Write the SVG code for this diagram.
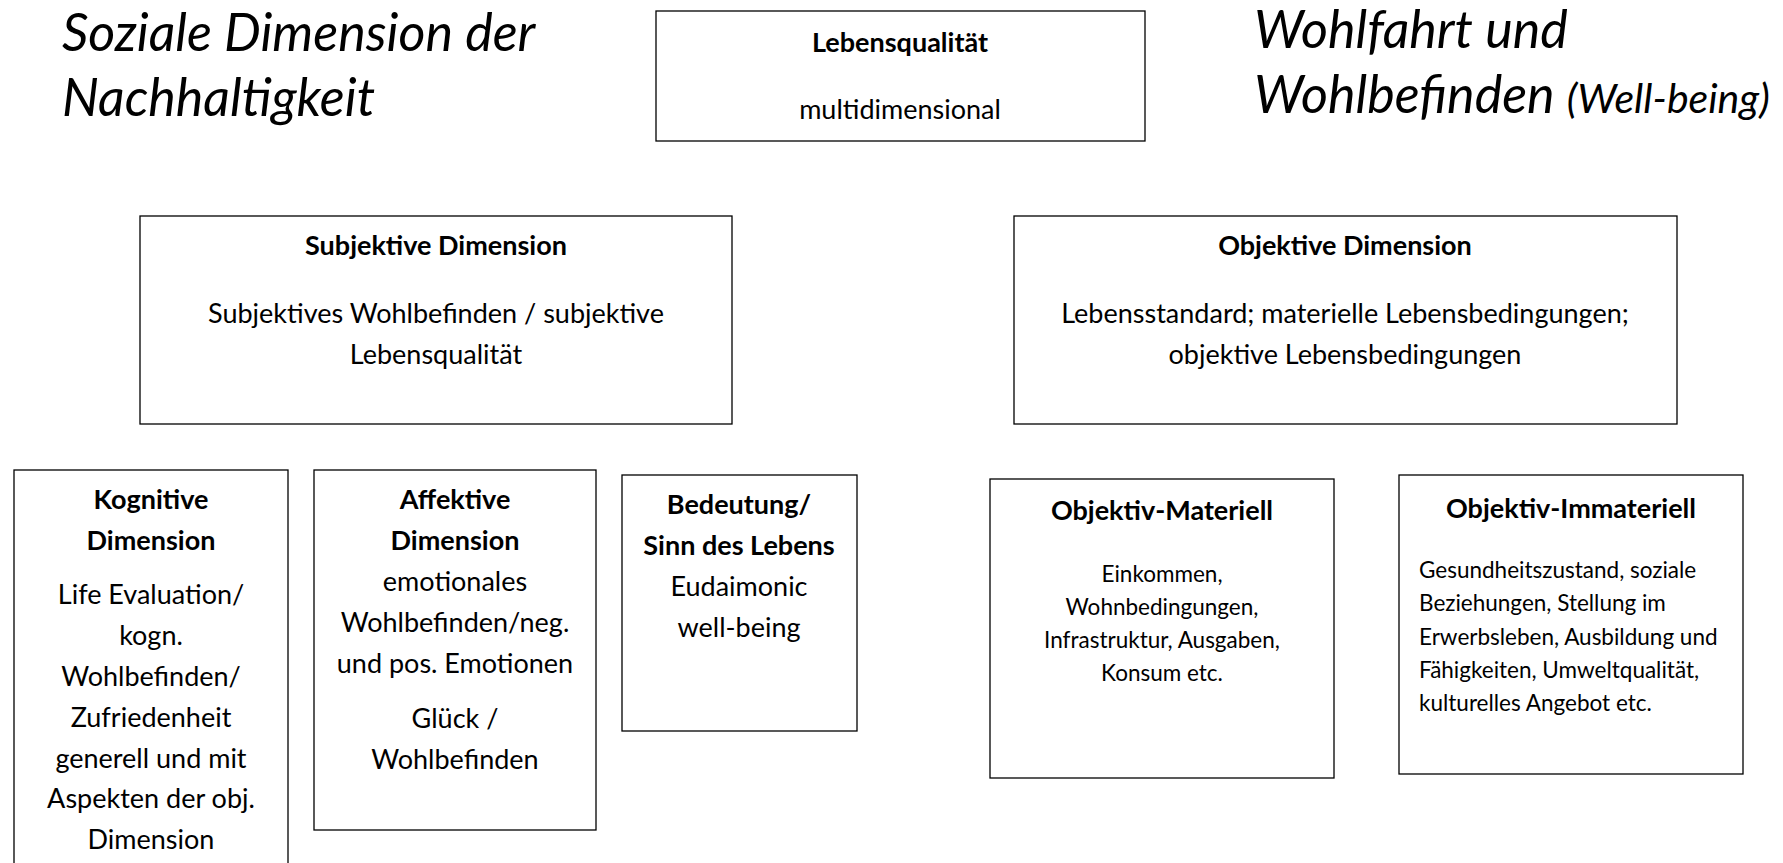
<svg xmlns="http://www.w3.org/2000/svg" width="1783" height="863" viewBox="0 0 1783 863">
<style>
.box{fill:#fff;stroke:#000;stroke-width:1.3}
text{font-family:Lato,"Open Sans","Liberation Sans",sans-serif;fill:#000}
.t{font-style:italic;font-size:52px}
.c{text-anchor:middle}
.b{font-weight:bold}
.m{font-size:27px}
.s{font-size:27px}
.x{font-size:22.5px}
</style>
<rect width="1783" height="863" fill="#fff"/>
<g id="title-left">
<text class="t" x="62" y="51">Soziale Dimension der</text>
<text class="t" x="62" y="116">Nachhaltigkeit</text>
</g>
<g id="title-right">
<text class="t" x="1254" y="48">Wohlfahrt und</text>
<text class="t" x="1254" y="113">Wohlbefinden <tspan font-size="41px">(Well-being)</tspan></text>
</g>
<g id="connectors"></g>
<g id="lebensqualitaet">
<rect class="box" x="656" y="11" width="489" height="130"/>
<text class="c b" x="900" y="52" font-size="27">Lebensqualität</text>
<text class="c" x="900" y="119" font-size="27">multidimensional</text>
</g>
<g id="subjektiv">
<rect class="box" x="140" y="216" width="592" height="208"/>
<text class="c b" x="436" y="255" font-size="27">Subjektive Dimension</text>
<text class="c m" x="436" y="323">Subjektives Wohlbefinden / subjektive</text>
<text class="c m" x="436" y="364">Lebensqualität</text>
</g>
<g id="objektiv">
<rect class="box" x="1014" y="216" width="663" height="208"/>
<text class="c b" x="1345" y="255" font-size="27">Objektive Dimension</text>
<text class="c m" x="1345" y="323">Lebensstandard; materielle Lebensbedingungen;</text>
<text class="c m" x="1345" y="364">objektive Lebensbedingungen</text>
</g>
<g id="kognitiv">
<rect class="box" x="14" y="470" width="274" height="400"/>
<text class="c s b" x="151" y="509">Kognitive</text>
<text class="c s b" x="151" y="550">Dimension</text>
<text class="c s" x="151" y="604">Life Evaluation/</text>
<text class="c s" x="151" y="645">kogn.</text>
<text class="c s" x="151" y="686">Wohlbefinden/</text>
<text class="c s" x="151" y="727">Zufriedenheit</text>
<text class="c s" x="151" y="768">generell und mit</text>
<text class="c s" x="151" y="808">Aspekten der obj.</text>
<text class="c s" x="151" y="849">Dimension</text>
</g>
<g id="affektiv">
<rect class="box" x="314" y="470" width="282" height="360"/>
<text class="c s b" x="455" y="509">Affektive</text>
<text class="c s b" x="455" y="550">Dimension</text>
<text class="c s" x="455" y="591">emotionales</text>
<text class="c s" x="455" y="632">Wohlbefinden/neg.</text>
<text class="c s" x="455" y="673">und pos. Emotionen</text>
<text class="c s" x="455" y="728">Glück /</text>
<text class="c s" x="455" y="769">Wohlbefinden</text>
</g>
<g id="bedeutung">
<rect class="box" x="622" y="475" width="235" height="256"/>
<text class="c s b" x="739" y="514">Bedeutung/</text>
<text class="c s b" x="739" y="555">Sinn des Lebens</text>
<text class="c s" x="739" y="596">Eudaimonic</text>
<text class="c s" x="739" y="637">well-being</text>
</g>
<g id="materiell">
<rect class="box" x="990" y="479" width="344" height="299"/>
<text class="c b" x="1162" y="520" font-size="27">Objektiv-Materiell</text>
<text class="c x" x="1162" y="582">Einkommen,</text>
<text class="c x" x="1162" y="615">Wohnbedingungen,</text>
<text class="c x" x="1162" y="648">Infrastruktur, Ausgaben,</text>
<text class="c x" x="1162" y="681">Konsum etc.</text>
</g>
<g id="immateriell">
<rect class="box" x="1399" y="475" width="344" height="299"/>
<text class="c b" x="1571" y="518" font-size="27">Objektiv-Immateriell</text>
<text class="x" x="1419" y="578">Gesundheitszustand, soziale</text>
<text class="x" x="1419" y="611">Beziehungen, Stellung im</text>
<text class="x" x="1419" y="645">Erwerbsleben, Ausbildung und</text>
<text class="x" x="1419" y="678">Fähigkeiten, Umweltqualität,</text>
<text class="x" x="1419" y="711">kulturelles Angebot etc.</text>
</g>
</svg>
